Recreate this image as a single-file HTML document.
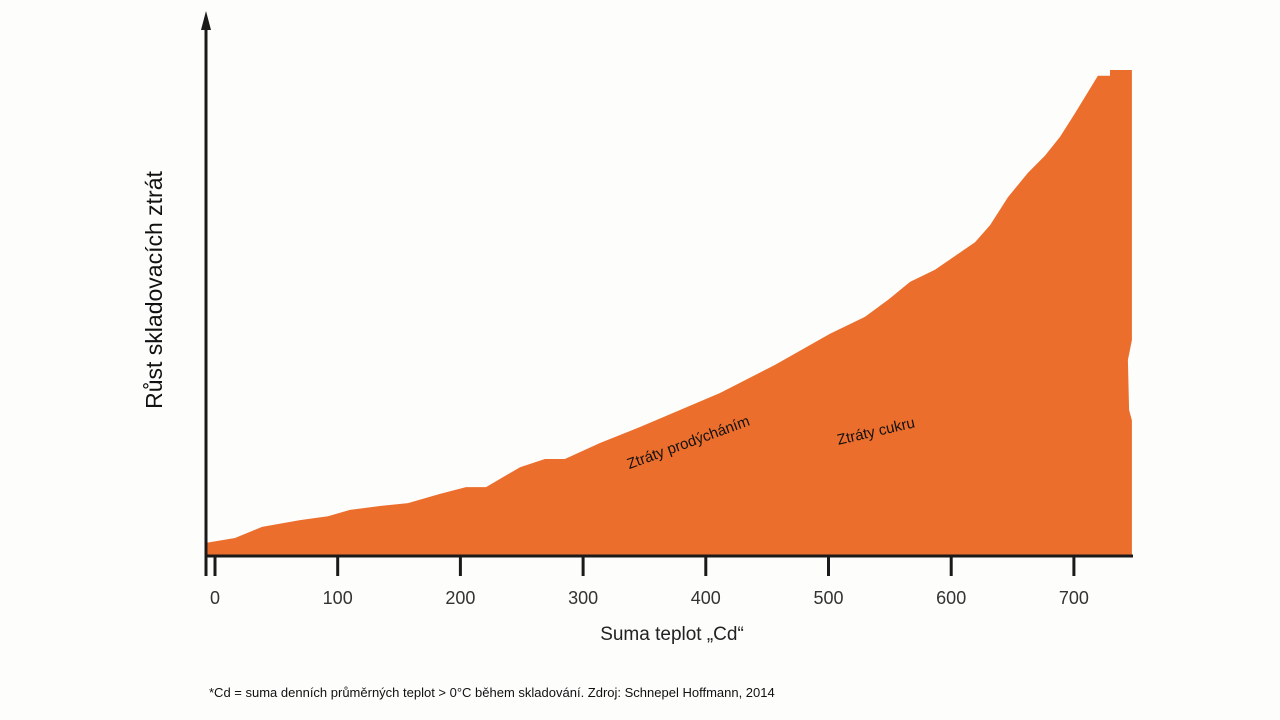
<!DOCTYPE html>
<html><head><meta charset="utf-8"><style>
html,body{margin:0;padding:0;background:#fdfdfb;}
svg{display:block;font-family:"Liberation Sans",Arial,sans-serif;}
</style></head><body>
<svg id="chart" width="1280" height="720" viewBox="0 0 1280 720">
<g id="area-g"></g>
<g id="axes"></g>
<text x="690" y="447" font-size="15" fill="#111" text-anchor="middle" transform="rotate(-20 690 447)">Ztráty prodýcháním</text>
<text x="877" y="436" font-size="15" fill="#111" text-anchor="middle" transform="rotate(-13 877 436)">Ztráty cukru</text>
<text x="162" y="290" font-size="23" fill="#111" text-anchor="middle" transform="rotate(-90 162 290)">Růst skladovacích ztrát</text>
<text x="672" y="640" font-size="19" fill="#222" text-anchor="middle">Suma teplot „Cd“</text>
<text x="209" y="697" font-size="13" fill="#111">*Cd = suma denních průměrných teplot &gt; 0°C během skladování. Zdroj: Schnepel Hoffmann, 2014</text>
</svg>
<script>
const xVals=[-7.3,16.3,38.3,69.3,92.1,110,134.5,157.3,183.4,204.6,220.9,248.6,268.9,285.2,313.8,346.4,379,411.6,456.4,501.2,529.7,548.5,566.4,586.8,619.4,631.6,646.3,662.6,676.4,688.7,700.9,719.6,729.4,729.4,747.3,747.3,744,745,747.3,747.3];
const yVals=[2.5,3.5,5.8,7.2,8.0,9.3,10.1,10.7,12.6,14.0,14.0,18.1,19.8,19.8,23.1,26.4,29.9,33.4,39.2,45.6,49.1,52.6,56.3,58.8,64.5,68.0,73.8,78.8,82.3,86.2,91.1,98.8,98.8,100,100,44.3,40.2,29.9,27.8,0];
const xTicks=[0,100,200,300,400,500,600,700];
const xTickLabels=["0","100","200","300","400","500","600","700"];
const NS="http://www.w3.org/2000/svg";
const axisX=206, baseY=556;
function x(v){return 215+v*1.227;}
function y(v){return 555-v*4.85;}
let d="M"+x(xVals[0])+","+y(0);
for(let i=0;i<xVals.length;i++) d+=" L"+x(xVals[i]).toFixed(1)+","+y(yVals[i]).toFixed(1);
d+=" Z";
const p=document.createElementNS(NS,"path");
p.setAttribute("d",d);p.setAttribute("fill","#ec6e2c");


document.getElementById("area-g").appendChild(p);
const ax=document.getElementById("axes");
function el(tag,attrs){const e=document.createElementNS(NS,tag);for(const k in attrs)e.setAttribute(k,attrs[k]);ax.appendChild(e);return e;}
const yl=el("line",{x1:axisX,y1:26,x2:axisX,y2:baseY+20,stroke:"#1a1a1a","stroke-width":3});


const ar=el("polygon",{points:(axisX-5)+",30 "+axisX+",11 "+(axisX+5)+",30",fill:"#1a1a1a"});


const xl=el("line",{x1:axisX-1,y1:baseY,x2:1133,y2:baseY,stroke:"#1a1a1a","stroke-width":3});


xTicks.forEach((t,i)=>{
  const tx=Math.max(axisX,x(t));
  const tk=el("line",{x1:tx,y1:baseY,x2:tx,y2:576,stroke:"#1a1a1a","stroke-width":3});
  
  
  const lb=el("text",{x:tx,y:604,"font-size":18,fill:"#333","text-anchor":"middle"});
  lb.textContent=xTickLabels[i];
  
  
});
</script>
</body></html>
